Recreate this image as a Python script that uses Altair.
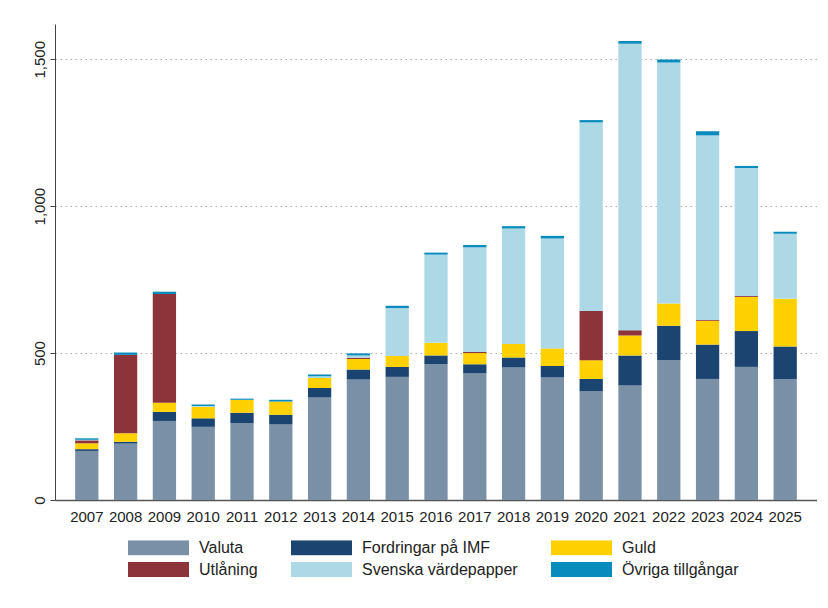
import altair as alt
import pandas as pd

years = [str(y) for y in range(2007, 2026)]
series = ["Valuta", "Fordringar på IMF", "Guld", "Utlåning", "Svenska värdepapper", "Övriga tillgångar"]
colors = ["#7a90a7", "#1b4570", "#ffd100", "#8c343a", "#add8e6", "#0a8bbd"]

valuta = [167, 192, 269, 249, 262, 257, 349, 410, 419, 462, 432, 451, 417, 370, 390, 476, 412, 453, 411]
imf = [6, 6, 31, 29, 35, 33, 32, 34, 34, 30, 30, 34, 39, 42, 102, 117, 117, 122, 111]
guld = [20, 29, 31, 39, 44, 45, 34, 36, 37, 43, 38, 46, 60, 64, 68, 76, 81, 116, 163]
utlaning = [10, 267, 370, 0, 0, 0, 0, 4, 0, 0, 4, 0, 0, 167, 18, 0, 3, 3, 0]
svenska = [2, 0, 0, 3, 0, 0, 6, 8, 163, 300, 356, 393, 374, 642, 975, 820, 628, 436, 221]
ovriga = [5, 8, 8, 5, 4, 6, 6, 7, 8, 7, 8, 8, 9, 8, 9, 10, 14, 7, 7]

values = [valuta, imf, guld, utlaning, svenska, ovriga]
rows = []
for si, (name, vals) in enumerate(zip(series, values)):
    for y, v in zip(years, vals):
        rows.append({"year": y, "series": name, "value": v, "order": si})
df = pd.DataFrame(rows)

rect_path = "M-1,-0.246H1V0.246H-1Z"

chart = alt.Chart(df).mark_bar().encode(
    x=alt.X("year:O", title=None,
            scale=alt.Scale(paddingInner=0.4, paddingOuter=0.52),
            axis=alt.Axis(labelAngle=0, ticks=False, labelPadding=9, labelFontSize=15,
                          labelColor="#222", domainColor="#555", domainWidth=1.5)),
    y=alt.Y("value:Q", title=None, stack="zero",
            scale=alt.Scale(domain=[0, 1620], nice=False),
            axis=alt.Axis(values=[0, 500, 1000, 1500], format=",.0f", labelAngle=-90,
                          labelAlign="center", labelBaseline="bottom", labelPadding=3,
                          labelFontSize=15, labelColor="#222", tickSize=5, tickColor="#444",
                          domainColor="#444", grid=True, gridDash=[1.5, 3.5], gridColor="#aaaaaa",
                          gridWidth=1.2)),
    color=alt.Color("series:N", sort=series,
                    scale=alt.Scale(domain=series, range=colors),
                    legend=alt.Legend(title=None, orient="none", legendX=73, legendY=516,
                                      columns=3, columnPadding=33, rowPadding=5,
                                      clipHeight=15,
                                      symbolType=rect_path, symbolSize=3721,
                                      symbolStrokeWidth=0, symbolOpacity=1,
                                      labelFontSize=16, labelColor="#222", labelOffset=10,
                                      labelLimit=300, padding=0, direction="horizontal")),
    order=alt.Order("order:Q", sort="ascending"),
).properties(
    width=762, height=476, autosize="none",
    padding={"left": 47, "top": 16, "right": 0, "bottom": 100},
).configure(font="Liberation Sans").configure_view(stroke=None)

chart.save("out.html", embed_options={"renderer": "svg", "actions": False})
